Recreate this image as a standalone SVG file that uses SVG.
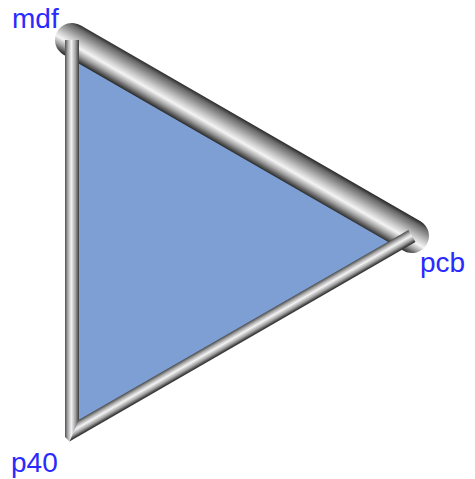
<svg xmlns="http://www.w3.org/2000/svg" width="475" height="479" viewBox="0 0 475 479">
<style>
.lbl{font-family:"Liberation Sans",Arial,sans-serif;font-size:28px;fill:#2a2aff}
</style>
<defs>
<linearGradient id="gThick" gradientUnits="userSpaceOnUse" x1="250.5" y1="123.3" x2="233.5" y2="152.7">
<stop offset="0" stop-color="#2a2a2a"/>
<stop offset="0.12" stop-color="#6a6a6a"/>
<stop offset="0.45" stop-color="#c8c8c8"/>
<stop offset="0.62" stop-color="#f4f4f4"/>
<stop offset="0.8" stop-color="#a0a0a0"/>
<stop offset="1" stop-color="#2a2a2a"/>
</linearGradient>
<linearGradient id="gVert" gradientUnits="userSpaceOnUse" x1="65" y1="0" x2="79" y2="0">
<stop offset="0" stop-color="#505050"/>
<stop offset="0.2" stop-color="#a8a8a8"/>
<stop offset="0.45" stop-color="#f4f4f4"/>
<stop offset="0.75" stop-color="#a0a0a0"/>
<stop offset="1" stop-color="#3a3a3a"/>
</linearGradient>
<linearGradient id="gLow" gradientUnits="userSpaceOnUse" x1="238.6" y1="327.3" x2="245.4" y2="339.1">
<stop offset="0" stop-color="#3a3a3a"/>
<stop offset="0.25" stop-color="#a8a8a8"/>
<stop offset="0.5" stop-color="#f4f4f4"/>
<stop offset="0.78" stop-color="#a0a0a0"/>
<stop offset="1" stop-color="#3a3a3a"/>
</linearGradient>
</defs>
<g id="triangle">
<polygon points="72,40 72,432 412,236" fill="#7d9fd3"/>
</g>
<g id="connectors">
<line x1="72" y1="40" x2="412" y2="236" stroke="url(#gThick)" stroke-width="34" stroke-linecap="round"/>
<polygon points="65,40 79,40 79,419.85 69.5,441.5 65,437" fill="url(#gVert)"/>
<polygon points="69.5,441.5 415.5,242.1 408.5,229.9 79,419.85" fill="url(#gLow)"/>
</g>
<g id="mdf"><text class="lbl" x="12" y="28">mdf</text></g>
<g id="pcb"><text class="lbl" x="420" y="272">pcb</text></g>
<g id="p40"><text class="lbl" x="11" y="472">p40</text></g>
</svg>
